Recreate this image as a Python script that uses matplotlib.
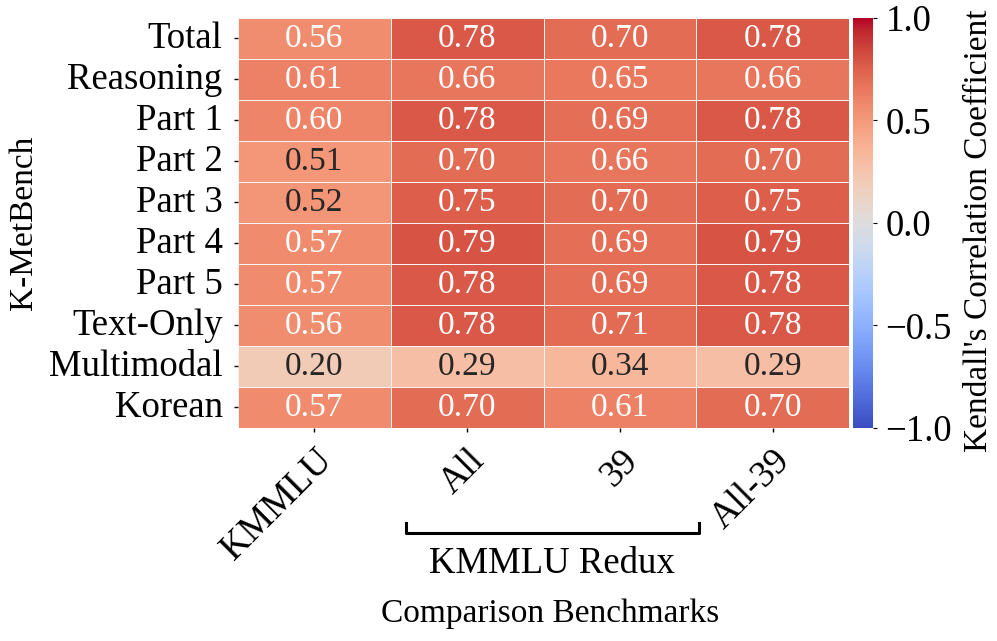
import matplotlib
matplotlib.use("Agg")
import matplotlib.pyplot as plt
import seaborn as sns
import numpy as np
import pandas as pd

rows = ["Total", "Reasoning", "Part 1", "Part 2", "Part 3", "Part 4", "Part 5",
        "Text-Only", "Multimodal", "Korean"]
cols = ["KMMLU", "All", "39", "All-39"]
kmmlu = [0.56, 0.61, 0.60, 0.51, 0.52, 0.57, 0.57, 0.56, 0.20, 0.57]
redux_all = [0.78, 0.66, 0.78, 0.70, 0.75, 0.79, 0.78, 0.78, 0.29, 0.70]
redux_39 = [0.70, 0.65, 0.69, 0.66, 0.70, 0.69, 0.69, 0.71, 0.34, 0.61]
redux_all_39 = [0.78, 0.66, 0.78, 0.70, 0.75, 0.79, 0.78, 0.78, 0.29, 0.70]

df = pd.DataFrame({"KMMLU": kmmlu, "All": redux_all, "39": redux_39, "All-39": redux_all_39},
                  index=rows)[cols]

plt.rcParams['font.family'] = ['Liberation Serif', 'DejaVu Serif']
plt.rcParams['mathtext.fontset'] = 'stix'

fig = plt.figure(figsize=(9.97, 6.41), dpi=100)
ax = fig.add_axes([0.2387, 0.3323, 0.6129, 0.6397])
cax = fig.add_axes([0.8556, 0.3323, 0.0200, 0.6397])

sns.heatmap(df, ax=ax, cbar_ax=cax, cmap="coolwarm", vmin=-1, vmax=1,
            annot=True, fmt=".2f", annot_kws={"size": 24},
            linewidths=0.6, linecolor="#f4f4f4")

ax.set_yticklabels(rows, rotation=0, fontsize=26.5)
ax.set_xticklabels(cols, rotation=45, ha="right", rotation_mode="anchor", fontsize=26.5)
ax.tick_params(axis="both", length=3, width=1, pad=8)
ax.set_ylabel("K-MetBench", fontsize=24)
ax.yaxis.set_label_coords(-0.325, 0.5)
ax.set_xlabel("Comparison Benchmarks", fontsize=24)
ax.xaxis.set_label_coords(0.51, -0.415)

cax.tick_params(labelsize=26.5, length=3, pad=6)
cax.set_ylabel("Kendall's Correlation Coefficient", fontsize=24)
cax.yaxis.set_label_coords(5.55, 0.48)
cax.set_yticks([-1.0, -0.5, 0.0, 0.5, 1.0])

# bracket for KMMLU Redux
y0, y1 = -0.232, -0.256
xa, xb = 0.275, 0.754
ax.plot([xa, xa, xb, xb], [y0, y1, y1, y0], color="black", lw=2.2,
        transform=ax.transAxes, clip_on=False)
ax.text((xa + xb) / 2, -0.33, "KMMLU Redux", transform=ax.transAxes,
        ha="center", va="center", fontsize=26.5)

fig.savefig("out.png", dpi=100)
